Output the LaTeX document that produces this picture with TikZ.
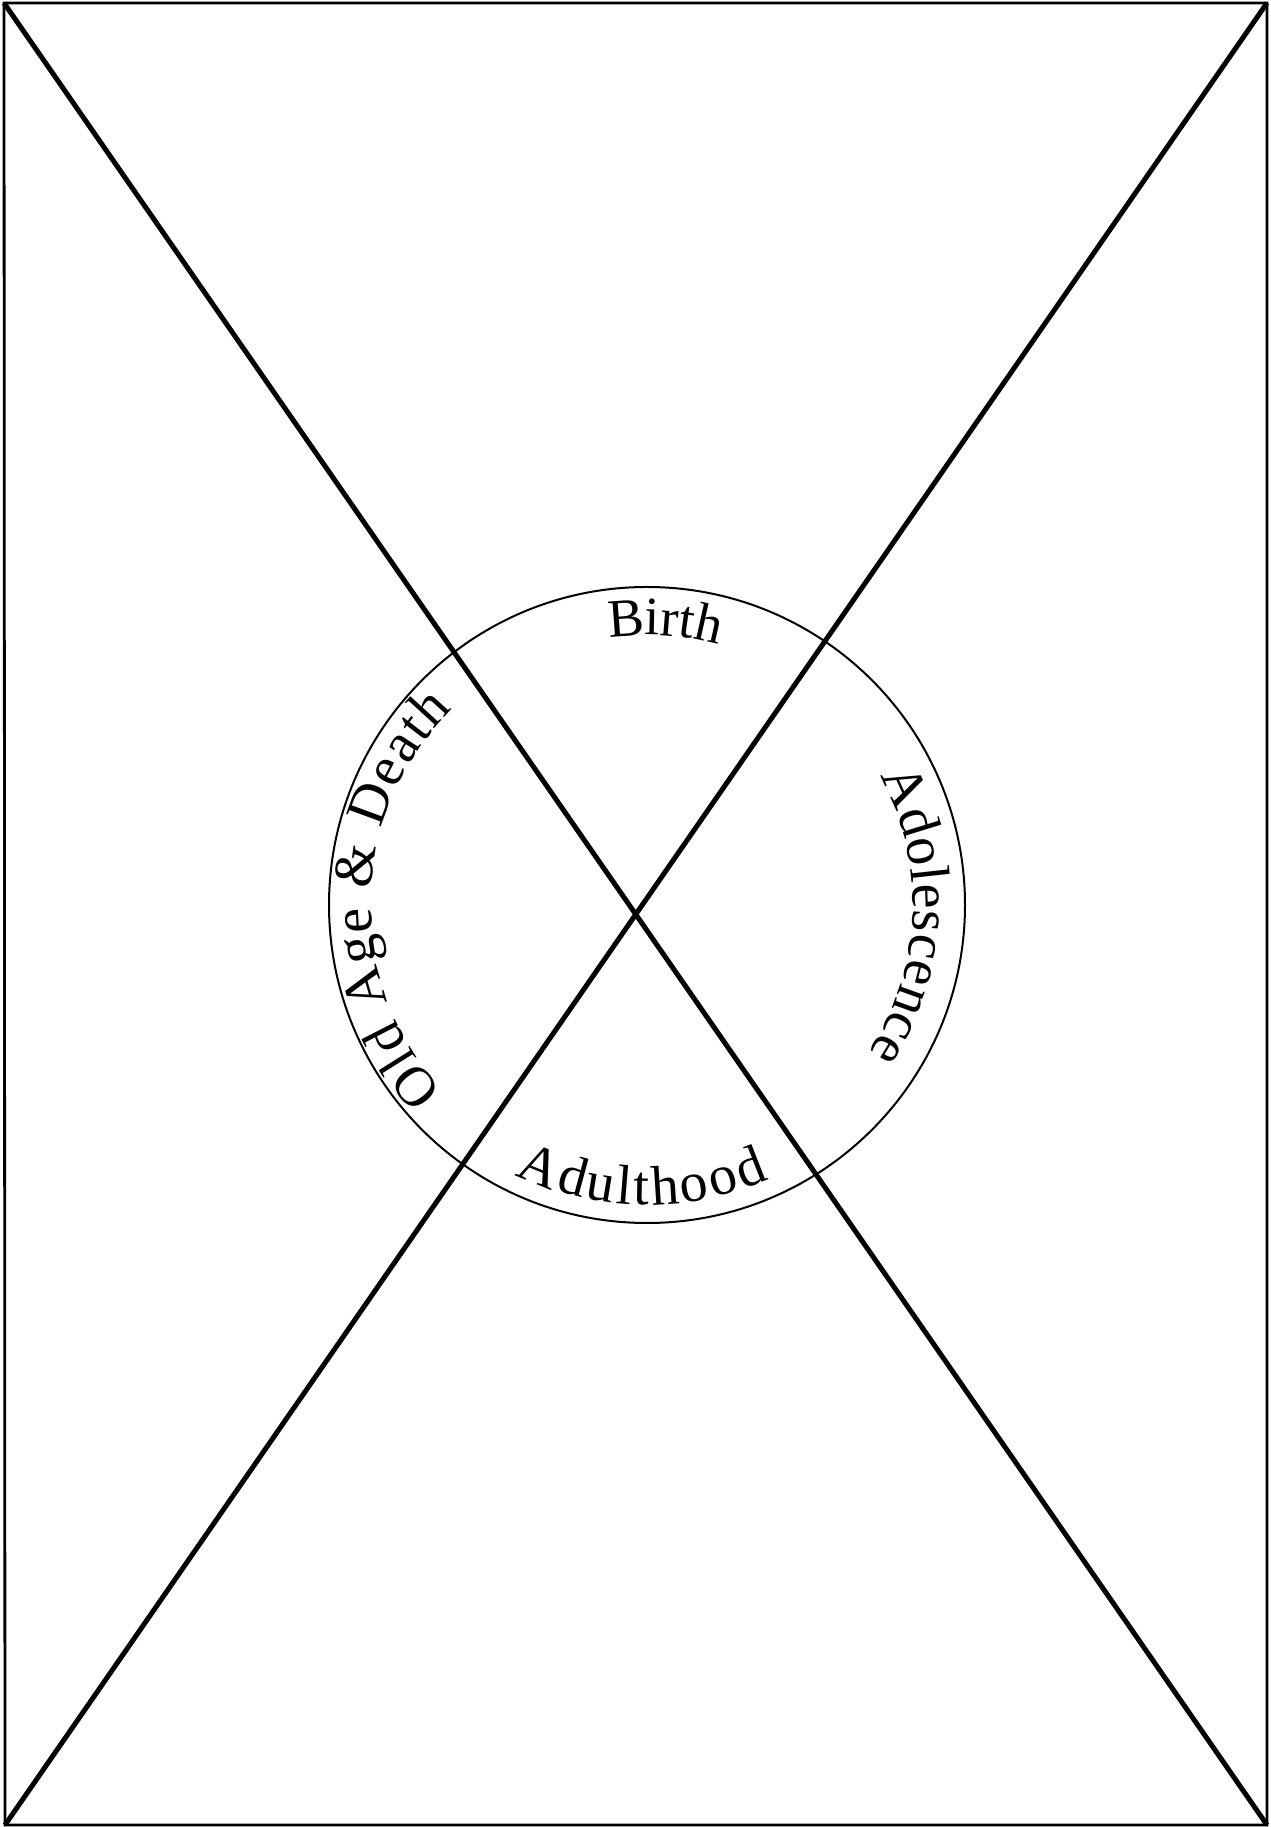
\documentclass[tikz,border=0pt]{standalone}
\usepackage{fontspec}
\setmainfont{Liberation Serif}
\usetikzlibrary{calc,decorations.text}
\newcommand\lblfont{\fontsize{28}{32}\selectfont}
\newcommand\topfont{\fontsize{27}{31}\selectfont}
\begin{document}
\begin{tikzpicture}[x=0.5pt,y=0.5pt,
  frame/.style={line width=1.4pt},
  diag/.style={line width=2.5pt},
  ring/.style={draw, circle, line width=1pt, minimum size=318pt, inner sep=0pt},
  fittext/.style={decorate, decoration={text along path, text align={fit to path}, text={|\lblfont|#1}}},
  midtext/.style={decorate, decoration={text along path, text align={center}, text={|\topfont|#1}}}]
\useasboundingbox (0,0) rectangle (1270,1827);
\coordinate (TL) at (4,1824);
\coordinate (TR) at (1267,1824);
\coordinate (BR) at (1267,2);
\coordinate (BL) at (5,2);
\draw[frame] (TL) -- (TR) -- (BR) -- (BL) -- cycle;
\draw[diag] (TL) -- (BR);
\draw[diag] (TR) -- (BL);
\coordinate (C) at (647,922);
\node[ring] (life) at (C) {};
% Birth (clockwise, top)
\path[midtext={Birth}] ($(C)+(116.3:270)$) arc[start angle=116.3, end angle=56.3, radius=270];
% Adolescence (clockwise, right)
\path[fittext={Adolescence}] ($(C)+(29:266)$) arc[start angle=29, end angle=-33.8, radius=266];
% Old Age & Death (clockwise, left)
\path[fittext={Old Age {\&} Death}] ($(C)+(222.5:276)$) arc[start angle=222.5, end angle=134.8, radius=276];
% Adulthood (counter-clockwise, bottom)
\path[fittext={Adulthood}] ($(C)+(243.9:300)$) arc[start angle=243.9, end angle=294, radius=300];
\end{tikzpicture}
\end{document}
